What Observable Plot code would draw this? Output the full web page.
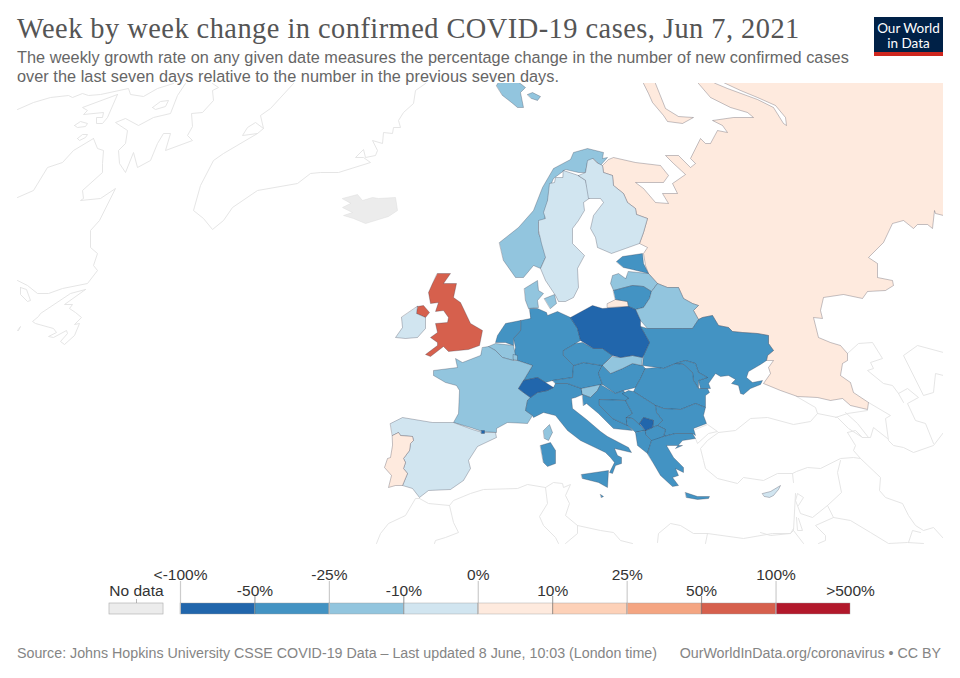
<!DOCTYPE html>
<html>
<head>
<meta charset="utf-8">
<script src="https://cdn.jsdelivr.net/npm/d3@7"></script>
<script src="https://cdn.jsdelivr.net/npm/@observablehq/plot@0.6"></script>
<style>
html,body{margin:0;padding:0;background:#fff;}
#page{position:relative;width:960px;height:678px;overflow:hidden;font-family:"Liberation Sans",Arial,sans-serif;}
#head{position:relative;height:83px;}
#title{position:absolute;left:17px;top:13px;font:28.4px "Liberation Serif",Georgia,serif;color:#555;white-space:nowrap;letter-spacing:.47px;}
#sub{position:absolute;left:17px;top:47.5px;font-size:16.3px;line-height:19px;color:#666;white-space:nowrap;letter-spacing:.035px;}
#logo{position:absolute;left:874px;top:17px;width:69px;height:39px;background:#002147;border-bottom:4px solid #ce261e;box-sizing:border-box;color:#fff;font:13.5px/15px Lato,sans-serif;text-align:center;padding-top:4px;}
#foot{position:absolute;left:17px;right:19px;top:645px;font-size:14.25px;color:#858585;display:flex;justify-content:space-between;white-space:nowrap;}
svg{display:block;}
#map{position:absolute;left:0;top:83px;}
#legend{position:absolute;left:0;top:560px;}
</style>
</head>
<body>
<div id="page">
  <div id="head">
    <div id="title">Week by week change in confirmed COVID-19 cases, Jun 7, 2021</div>
    <div id="sub">The weekly growth rate on any given date measures the percentage change in the number of new confirmed cases<br>over the last seven days relative to the number in the previous seven days.</div>
    <div id="logo">Our World<br>in Data</div>
  </div>
  <div id="map"></div>
  <div id="legend"></div>
  <div id="foot"><span>Source: Johns Hopkins University CSSE COVID-19 Data – Last updated 8 June, 10:03 (London time)</span><span>OurWorldInData.org/coronavirus • CC BY</span></div>
</div>
<script>
// Legend bins
const upperLabels = ["<-100%","-25%","0%","25%","100%"];
const lowerLabels = ["-50%","-10%","10%","50%",">500%"];
const thresholds = [-50,-25,-10,0,10,25,50,100];
const binColors = ["#2166ac","#4393c3","#92c5de","#d1e5f0","#feeade","#fdd1b8","#f4a582","#d6604d","#b2182b"];

// Weekly change (%)
const change = {
  Russia:5, Norway:-20, Sweden:-5, Finland:-5, Estonia:-40, Latvia:-20, Lithuania:-40, Belarus:-15,
  Poland:-60, Ukraine:-35, Moldova:-35, Germany:-35, Netherlands:-35, Belgium:-20, Luxembourg:-20,
  France:-20, Spain:-5, Portugal:5, Andorra:-60, Italy:-35, Malta:-35, Switzerland:-60, Austria:-35, Czechia:-35,
  Slovakia:-20, Hungary:-35, Slovenia:-20, Croatia:-35, Bosnia:-35, Serbia:-35, Montenegro:-35, Kosovo:-60,
  Albania:-35, Macedonia:-35, Romania:-35, Bulgaria:-35, Greece:-35, Cyprus:-5, UK:70, NIreland:70,
  Ireland:-5, Denmark:-20
};

// Outlines, in map units
const russiaMain = [[698,83],[710,97],[730,107],[747,112],[753,117],[733,117],[712,120],[722,125],[727,132],[717,130],[710,143],[705,143],[700,138],[690,158],[695,163],[690,167],[678,155],[665,155],[673,163],[685,174],[672,183],[677,193],[662,193],[668,203],[655,202],[643,188],[635,182],[663,182],[668,175],[660,165],[635,162],[613,157],[608,159],[602,165],[603,172],[612,175],[613,185],[623,193],[627,202],[635,208],[636,214],[647,218],[643,232],[639,243],[647,247],[643,253],[645,265],[648,273],[657,283],[667,287],[678,287],[683,298],[692,303],[698,305],[693,310],[698,319],[702,317],[712,315],[718,325],[728,327],[732,331],[742,332],[757,333],[768,335],[768,343],[773,350],[767,355],[766,360],[773,360],[768,367],[770,373],[763,383],[780,390],[797,396],[817,397],[830,400],[842,398],[850,405],[867,409],[868,402],[853,392],[850,382],[840,375],[842,363],[847,360],[847,353],[840,345],[830,342],[818,337],[813,317],[822,318],[820,310],[823,297],[843,294],[862,298],[867,291],[885,290],[893,285],[892,280],[877,277],[877,263],[868,257],[883,242],[892,223],[903,220],[913,228],[917,224],[927,224],[932,228],[934,210],[935,213],[943,215],[950,216],[950,76],[711,76],[725,83],[740,90],[757,97],[775,105],[785,117],[786,125],[783,123],[773,107],[757,99],[727,88],[715,83],[703,76],[691,76]];
const novayaZemlya = [[639,76],[643,83],[648,93],[652,102],[663,115],[667,121],[682,123],[693,117],[678,116],[665,108],[655,83],[652,76]];
const kaliningrad = [[607,303],[615,299],[627,301],[628,306],[607,307]];
const norwayMain = [[499,242],[518,227],[533,210],[542,187],[553,168],[570,159],[573,152],[587,148],[603,152],[602,158],[607,157],[600,165],[593,158],[587,162],[585,172],[578,172],[565,169],[553,178],[550,185],[547,203],[544,220],[538,222],[538,233],[545,247],[545,257],[540,268],[533,265],[523,277],[515,277],[503,260]];
const svalbard = [[496,85],[499,80],[516,80],[525,87],[520,92],[523,107],[517,107],[511,102],[502,95]];
const svalbardEast = [[527,94],[532,92],[540,96],[537,100],[531,98]];
const sweden = [[563,170],[578,175],[585,180],[590,197],[583,202],[584,210],[578,220],[572,228],[572,243],[584,255],[577,268],[578,287],[573,297],[565,301],[558,301],[555,295],[545,280],[540,268],[545,257],[541,243],[538,230],[538,220],[545,218],[543,212],[547,200],[549,183],[554,182],[555,177],[562,177]];
const finland = [[578,175],[585,172],[587,160],[592,158],[596,162],[602,165],[603,172],[612,175],[613,185],[623,193],[627,202],[635,208],[636,214],[647,218],[643,232],[639,243],[625,248],[611,253],[597,247],[595,237],[590,228],[593,215],[603,202],[600,198],[588,198],[585,180]];
const estonia = [[616,261],[622,256],[642,253],[643,263],[648,273],[632,269],[623,267]];
const latvia = [[628,271],[648,273],[657,283],[651,291],[643,286],[632,285],[613,290],[610,283],[612,275],[618,273],[625,278]];
const lithuania = [[613,290],[632,285],[643,286],[651,291],[649,298],[643,307],[635,309],[628,306],[627,301],[615,299]];
const belarus = [[651,291],[657,283],[667,287],[678,287],[683,298],[692,303],[698,305],[693,310],[698,319],[692,328],[682,328],[647,328],[640,320],[635,309],[643,307],[649,298]];
const poland = [[570,317],[592,305],[602,308],[628,306],[635,309],[640,320],[640,326],[649,342],[643,355],[642,357],[632,355],[620,357],[612,355],[602,348],[593,348],[580,340],[577,328]];
const ukraine = [[647,328],[682,328],[692,328],[698,319],[702,317],[712,315],[718,325],[728,327],[732,331],[742,332],[757,333],[768,335],[768,343],[773,350],[767,355],[766,360],[760,364],[748,371],[746,377],[752,382],[762,380],[760,384],[750,388],[743,394],[740,393],[738,385],[731,383],[735,379],[728,375],[720,376],[715,373],[708,383],[710,388],[700,388],[698,380],[707,377],[698,372],[695,363],[685,360],[675,363],[663,368],[657,367],[642,365],[643,355],[649,342],[640,326]];
const moldova = [[675,363],[685,360],[695,363],[698,372],[707,377],[698,380],[698,388],[693,380],[692,372],[683,364]];
const slovakia = [[612,356],[620,357],[632,355],[642,357],[641,365],[632,363],[622,368],[610,373],[602,365]];
const hungary = [[602,365],[610,373],[622,368],[632,363],[642,365],[645,368],[640,378],[635,387],[623,390],[615,393],[602,384],[598,373]];
const czechia = [[563,350],[575,343],[582,342],[593,348],[602,348],[612,355],[602,365],[583,362],[573,365],[563,355]];
const austria = [[552,380],[572,377],[573,365],[583,362],[602,365],[598,373],[602,384],[581,388],[567,383],[555,383]];
const switzerland = [[518,388],[523,380],[537,377],[545,382],[553,387],[547,390],[537,392],[530,397],[523,392]];
const germany = [[529,308],[537,308],[546,312],[547,315],[557,311],[570,317],[577,328],[580,340],[575,343],[563,350],[563,355],[573,365],[572,377],[552,380],[545,382],[537,377],[523,380],[532,365],[517,360],[513,355],[515,347],[513,338],[520,330],[520,320],[530,318]];
const netherlands = [[520,320],[505,323],[497,335],[495,342],[505,342],[513,345],[513,338],[520,330]];
const belgium = [[488,346],[495,343],[513,345],[515,355],[513,360],[502,357],[495,350]];
const luxembourg = [[513,354],[517,355],[517,360],[513,359]];
const france = [[482,347],[488,346],[495,350],[502,357],[513,360],[517,360],[532,365],[523,380],[518,388],[523,392],[530,397],[527,400],[525,410],[532,415],[527,423],[507,422],[496,428],[496,432],[482,431],[470,427],[453,422],[458,413],[459,390],[456,385],[445,382],[433,375],[433,370],[457,367],[455,358],[462,362],[480,355]];
const corsica = [[543,430],[549,424],[552,432],[548,440],[544,438]];
const andorra = [[481,430],[484,430],[484,433],[481,433]];
const spain = [[390,423],[402,417],[432,422],[453,422],[472,429],[482,432],[495,432],[496,437],[477,446],[468,460],[470,468],[463,480],[450,489],[428,490],[419,497],[412,488],[402,485],[407,473],[403,468],[405,462],[403,458],[409,450],[410,443],[413,440],[412,436],[400,435],[398,432],[392,435]];
const portugal = [[392,435],[398,432],[400,435],[412,436],[413,440],[410,443],[409,450],[403,458],[405,462],[403,468],[407,473],[402,485],[395,485],[388,487],[391,475],[384,467],[387,458],[390,457],[392,445]];
const italyMain = [[530,397],[537,392],[547,390],[553,387],[555,383],[567,383],[581,388],[582,394],[575,397],[571,398],[572,408],[586,419],[600,431],[607,436],[628,447],[631,452],[614,448],[617,455],[621,457],[621,463],[615,465],[612,473],[609,472],[614,462],[610,457],[605,452],[580,440],[567,430],[555,415],[543,412],[533,417],[532,415],[525,410],[527,400]];
const sardinia = [[540,445],[550,442],[555,450],[555,463],[547,466],[543,462]];
const sicily = [[581,474],[608,470],[607,487],[598,482],[582,478]];
const malta = [[600,494],[603,496],[601,497]];
const slovenia = [[581,388],[600,384],[597,390],[590,397],[582,394]];
const croatia = [[582,394],[590,397],[597,390],[600,384],[615,393],[623,390],[628,398],[625,400],[599,399],[599,405],[612,418],[627,425],[632,430],[613,428],[598,413],[586,403],[583,405]];
const bosnia = [[599,399],[625,400],[632,413],[626,417],[627,425],[612,418],[599,405]];
const montenegro = [[626,417],[632,418],[640,425],[645,430],[635,432],[633,430],[627,425]];
const kosovo = [[639,423],[643,417],[653,420],[652,427],[645,430]];
const macedonia = [[645,430],[652,427],[657,425],[665,429],[663,436],[652,441],[646,435]];
const albania = [[635,432],[637,445],[647,453],[651,440],[646,435],[645,430]];
const serbia = [[622,393],[628,390],[633,391],[655,405],[656,412],[662,420],[657,425],[652,427],[653,420],[643,417],[639,423],[640,425],[632,418],[626,417],[632,413],[625,400],[628,398]];
const romania = [[645,368],[657,367],[663,368],[675,363],[683,364],[692,372],[693,380],[698,388],[707,388],[709,392],[705,395],[705,407],[695,403],[680,409],[663,408],[655,405],[633,391],[635,387],[640,378]];
const bulgaria = [[655,405],[663,408],[680,409],[695,403],[705,407],[703,415],[706,423],[693,428],[695,435],[692,433],[675,433],[663,436],[665,429],[657,425],[662,420],[656,412]];
const greece = [[647,453],[651,440],[663,436],[675,433],[692,433],[695,438],[682,440],[675,448],[682,445],[666,445],[673,457],[683,467],[683,472],[675,468],[678,475],[672,477],[678,485],[672,486],[660,475],[653,463]];
const crete = [[685,492],[697,496],[709,496],[708,498],[697,499],[686,497]];
const cyprus = [[762,493],[770,491],[780,485],[778,489],[773,495],[769,497],[764,496]];
const britain = [[437,273],[450,273],[443,283],[456,283],[453,297],[460,302],[470,323],[482,330],[479,345],[468,349],[448,351],[443,346],[430,356],[425,354],[437,345],[437,342],[430,337],[437,332],[435,323],[447,322],[448,317],[443,310],[435,311],[438,302],[430,303],[428,292],[432,283]];
const nIreland = [[417,306],[423,305],[429,312],[425,317],[416,313]];
const ireland = [[417,306],[416,313],[425,317],[425,328],[417,337],[405,338],[395,337],[402,327],[401,317]];
const jutland = [[524,288],[537,280],[538,290],[543,293],[537,300],[538,307],[528,308],[525,300]];
const zealand = [[544,298],[554,294],[556,303],[550,308]];
const iceland = [[342,198],[357,194],[362,200],[372,197],[378,198],[395,197],[397,210],[388,216],[365,223],[353,218],[343,215],[352,212],[342,207],[350,203]];

const countryShapes = [
  ["Russia",russiaMain],["Russia",novayaZemlya],["Russia",kaliningrad],
  ["Norway",norwayMain],["Norway",svalbard],["Norway",svalbardEast],
  ["Sweden",sweden],["Finland",finland],["Latvia",latvia],["Estonia",estonia],["Lithuania",lithuania],["Belarus",belarus],
  ["Ukraine",ukraine],["Moldova",moldova],["Germany",germany],["Netherlands",netherlands],["Belgium",belgium],["Luxembourg",luxembourg],
  ["France",france],["France",corsica],["Spain",spain],["Portugal",portugal],["Andorra",andorra],
  ["Italy",italyMain],["Italy",sardinia],["Italy",sicily],["Malta",malta],["Austria",austria],["Switzerland",switzerland],["Czechia",czechia],
  ["Hungary",hungary],["Slovakia",slovakia],["Poland",poland],["Slovenia",slovenia],["Croatia",croatia],["Bosnia",bosnia],
  ["Romania",romania],["Bulgaria",bulgaria],["Serbia",serbia],["Montenegro",montenegro],["Albania",albania],["Macedonia",macedonia],["Kosovo",kosovo],
  ["Greece",greece],["Greece",crete],["Cyprus",cyprus],["UK",britain],["NIreland",nIreland],["Ireland",ireland],["Denmark",jutland],["Denmark",zealand]
];

// Countries outside the selected region: outlines only
const contextLines = [
  [[17,109],[33,102],[50,97],[68,95],[72,97],[82,93],[88,95],[100,94],[128,88],[130,94],[143,96],[157,88],[173,83]],
  [[117,94],[82,107],[87,110],[83,114],[103,112],[102,117],[96,117],[96,123],[102,123],[107,117],[117,94]],
  [[74,125],[80,121],[87,123],[85,126],[77,127],[74,125]],
  [[77,138],[82,134],[87,134],[85,137],[79,140],[77,138]],
  [[152,107],[160,101],[168,100],[165,106],[155,109],[152,107]],
  [[185,83],[177,95],[170,113],[153,117],[138,125],[125,118],[115,122],[127,130],[125,143],[118,150],[119,163],[125,172],[133,152],[137,167],[150,160],[157,143],[163,133],[170,133],[165,150],[192,140],[187,135],[192,126],[191,113],[202,112],[213,100],[212,90],[218,87],[212,83]],
  [[93,138],[97,148],[103,150],[102,163],[102,172],[82,190],[83,198],[80,200],[100,198],[115,188],[99,220],[90,230],[90,247],[97,253],[93,265],[97,270],[87,283],[62,288],[48,293],[37,293],[27,285],[17,280]],
  [[93,138],[73,150],[62,162],[47,167],[33,190],[17,197]],
  [[85,289],[70,293],[40,313],[38,316],[32,321],[35,323],[53,328],[56,332],[48,336],[53,337],[66,330],[67,333],[60,341],[64,344],[74,335],[79,323],[74,324],[81,317],[75,312],[69,308],[72,304],[64,304],[85,289]],
  [[20,287],[26,289],[30,300],[27,301],[20,294],[20,287]],
  [[17,330],[20,326],[18,330]],
  [[293,83],[270,108],[260,115],[263,128],[257,133],[242,135],[247,127],[255,122],[263,128]],
  [[257,133],[223,153],[213,160],[200,185],[193,210],[203,218],[212,229],[223,220],[232,207],[257,190],[297,183],[310,173],[320,172],[338,172],[370,162],[363,157],[355,157],[363,149],[365,157],[375,155],[377,150],[372,140],[382,143],[383,132],[392,133],[393,127],[400,127],[398,120],[403,112],[413,103],[415,90],[425,83]],
  // North Africa
  [[419,498],[415,498],[405,515],[388,523],[380,533],[376,543]],
  [[419,498],[428,503],[449,505],[453,500],[470,493],[483,489],[517,488],[527,484],[545,487],[553,482],[562,483],[563,487],[570,484],[565,495],[569,503],[565,515],[577,525],[600,530],[613,532],[620,540],[632,543]],
  [[449,505],[453,522],[458,532],[445,537],[435,540],[434,543]],
  [[545,487],[547,503],[539,516],[543,525],[555,537],[558,543]],
  [[577,525],[577,533],[565,543]],
  [[657,542],[658,533],[670,523],[680,525],[693,533],[707,533],[743,538],[772,533],[790,533],[793,528]],
  [[707,533],[705,543]],
  [[760,532],[770,535],[790,533],[793,530]],
  // Turkey, Caucasus, Middle East
  [[695,438],[697,443],[708,433],[717,431],[707,424],[695,429]],
  [[718,432],[707,440],[700,448],[703,460],[705,468],[717,478],[737,483],[743,477],[763,480],[777,473],[792,473],[796,471],[807,467],[820,468],[840,458],[853,457],[860,458]],
  [[718,432],[735,430],[750,418],[767,417],[793,424],[810,421],[817,413],[837,417],[848,428],[862,437],[870,437],[873,427],[887,438]],
  [[796,396],[815,407],[817,413]],
  [[847,432],[855,445],[853,450],[860,458],[880,477],[879,490],[885,497],[902,503],[908,515],[915,525],[923,530],[933,527],[943,538]],
  [[868,402],[890,415],[885,418],[888,440],[893,445],[903,447],[913,452],[933,445],[943,432]],
  [[835,417],[847,413],[867,410]],
  [[845,412],[857,423],[868,437]],
  [[847,432],[855,430],[862,437]],
  [[847,353],[858,343],[872,342],[882,358],[870,362],[873,368],[867,370],[883,383],[892,385],[898,393],[907,388],[918,397],[907,403],[915,420],[925,423],[933,443]],
  [[898,393],[903,402]],
  [[943,352],[917,345],[903,355],[923,395],[933,392],[935,373],[943,375]],
  [[840,460],[837,472],[841,492],[827,505],[812,517],[800,513],[795,500],[797,493],[803,497],[798,505]],
  [[793,482],[792,473]],
  [[795,493],[793,530],[803,543]],
  [[827,505],[833,517],[815,525],[825,535],[825,540],[818,543]],
  [[833,517],[850,520],[870,532],[888,543],[907,542],[923,543]],
  [[908,542],[912,530],[920,532]],
  [[796,517],[797,530],[802,530],[798,518]]
];

const toRows = (shape, i, extra) => shape.map(([x,y]) => ({x, y, part:i, ...extra}));
const countryRows = countryShapes.flatMap(([name, shape], i) => toRows(shape, i, {name, value: change[name]}));
const contextRows = contextLines.flatMap((shape, i) => toRows(shape, i, {}));
const noDataRows = toRows(iceland, 0, {name:"Iceland"});

const mapPlot = Plot.plot({
  width: 960, height: 465, marginLeft: 17, marginRight: 17, marginTop: 0, marginBottom: 0,
  x: {domain:[17,943], axis:null},
  y: {domain:[83,548], range:[0,465], axis:null},
  color: {type:"threshold", domain:thresholds, range:binColors},
  marks: [
    Plot.line(contextRows, {x:"x", y:"y", z:"part", stroke:"#e2e2e2", strokeWidth:0.9, clip:true}),
    Plot.line(noDataRows, {x:"x", y:"y", z:"part", curve:"linear-closed", fill:"#ececec", stroke:"#dcdcdc", strokeWidth:0.5}),
    Plot.line(countryRows, {x:"x", y:"y", z:"part", curve:"linear-closed", fill:"value", stroke:"#334", strokeOpacity:0.42, strokeWidth:0.7, strokeLinejoin:"round", clip:true})
  ]
});
document.getElementById("map").append(mapPlot);

// Legend
const bins = binColors.map((color,i)=>({i, color}));
const upper = upperLabels.map((label,i)=>({label, at:i*2}));
const lower = lowerLabels.map((label,i)=>({label, at:i*2+1}));
lower[4].at = 9;
const noData = {x1:-0.954, x2:-0.228, label:"No data"};

const legendPlot = Plot.plot({
  width: 960, height: 60, margin: 0,
  x: {domain:[0,9], range:[180,850], axis:null},
  y: {domain:[0,60], range:[0,60], axis:null},
  marks: [
    Plot.ruleX(upper, {x:"at", y1:21, y2:43, stroke:"#ccc", strokeWidth:1.2}),
    Plot.ruleX(lower.slice(0,4), {x:"at", y1:36, y2:43, stroke:"#777", strokeWidth:0.8}),
    Plot.rect(bins, {x1:"i", x2:d=>d.i+1, y1:43, y2:54, fill:"color", stroke:"#999", strokeWidth:0.4}),
    Plot.ruleX(upper, {x:"at", y1:43, y2:54, stroke:"#bbb", strokeWidth:1}),
    Plot.ruleX(lower.slice(0,4), {x:"at", y1:43, y2:54, stroke:"#666", strokeWidth:0.5}),
    Plot.rect([noData], {x1:"x1", x2:"x2", y1:43, y2:54, fill:"#ececec", stroke:"#aaa", strokeWidth:0.6}),
    Plot.ruleX([(noData.x1+noData.x2)/2], {y1:39, y2:43, stroke:"#999", strokeWidth:0.7}),
    Plot.text(upper, {x:"at", y:15, text:"label", fontSize:15.5, fill:"#333", fontFamily:"Liberation Sans"}),
    Plot.text(lower, {x:"at", y:31, text:"label", fontSize:15.5, fill:"#333", fontFamily:"Liberation Sans"}),
    Plot.text([noData], {x:d=>(d.x1+d.x2)/2, y:31, text:"label", fontSize:15.5, fill:"#333", fontFamily:"Liberation Sans"})
  ]
});
document.getElementById("legend").append(legendPlot);
</script>
</body>
</html>
